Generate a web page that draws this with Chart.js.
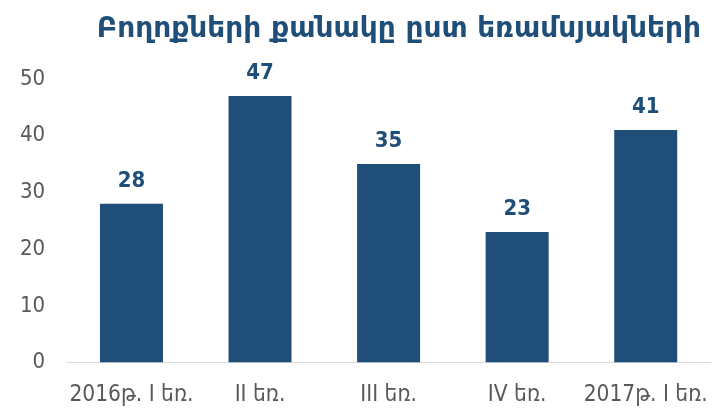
<!DOCTYPE html>
<html>
<head>
<meta charset="utf-8">
<script src="https://cdn.jsdelivr.net/npm/chart.js@4.4.0/dist/chart.umd.min.js"></script>
<style>
  html, body { margin: 0; padding: 0; background: #fff; }
  .chart-container { width: 712px; height: 408px; position: relative; }
</style>
</head>
<body>
<div class="chart-container">
  <canvas id="chart" aria-label="Bar Chart"></canvas>
</div>
<script>
const chartTitle = 'Բողոքների քանակը ըստ եռամսյակների';
const quarters = ['2016թ. I եռ.', 'II եռ.', 'III եռ.', 'IV եռ.', '2017թ. I եռ.'];
const complaints = [28, 47, 35, 23, 41];
const yTicks = [0, 10, 20, 30, 40, 50];

const barColour = '#1F4E79';
const fontFamily = '"DejaVu Sans Condensed", "DejaVu Sans", sans-serif';

/* value labels above each bar */
const valueLabels = {
  id: 'valueLabels',
  afterDatasetsDraw(chart) {
    const ctx = chart.ctx;
    const meta = chart.getDatasetMeta(0);
    ctx.save();
    ctx.fillStyle = barColour;
    ctx.font = 'bold 22px ' + fontFamily;
    ctx.textAlign = 'center';
    ctx.textBaseline = 'alphabetic';
    meta.data.forEach((bar, i) => {
      ctx.fillText(complaints[i], bar.x, bar.y - 17);
    });
    ctx.restore();
  }
};

/* title, right aligned a little inside the canvas */
const titleText = {
  id: 'titleText',
  afterDraw(chart) {
    const ctx = chart.ctx;
    ctx.save();
    ctx.fillStyle = barColour;
    ctx.font = 'bold 28px "DejaVu Sans", sans-serif';
    ctx.textAlign = 'right';
    ctx.textBaseline = 'alphabetic';
    ctx.fillText(chartTitle, chart.width - 11, 37);
    ctx.restore();
  }
};

new Chart(document.getElementById('chart'), {
  type: 'bar',
  data: {
    labels: quarters,
    datasets: [{
      data: complaints,
      backgroundColor: barColour,
      borderWidth: 0,
      categoryPercentage: 1,
      barPercentage: 0.49
    }]
  },
  options: {
    responsive: true,
    maintainAspectRatio: false,
    animation: false,
    layout: {
      padding: { top: 79, left: -2, right: 2, bottom: -19 }
    },
    plugins: {
      legend: { display: false },
      tooltip: { enabled: false },
      title: { display: false }
    },
    scales: {
      x: {
        // let the wide end labels run to the canvas edge instead of shrinking the plot
        afterFit: (scale) => { scale.paddingLeft = 0; scale.paddingRight = 0; },
        grid: { display: false, drawTicks: false },
        border: { color: '#d9d9d9', width: 1 },
        ticks: {
          color: '#595959',
          font: { family: fontFamily, size: 22.5, lineHeight: 1 },
          padding: 21,
          maxRotation: 0,
          minRotation: 0,
          autoSkip: false
        }
      },
      y: {
        min: 0,
        max: 50,
        afterBuildTicks: (axis) => { axis.ticks = yTicks.map(v => ({ value: v })); },
        grid: { display: false, drawTicks: false },
        border: { display: false },
        ticks: {
          color: '#595959',
          font: { family: fontFamily, size: 22 },
          padding: 22
        }
      }
    }
  },
  plugins: [valueLabels, titleText]
});
</script>
</body>
</html>
